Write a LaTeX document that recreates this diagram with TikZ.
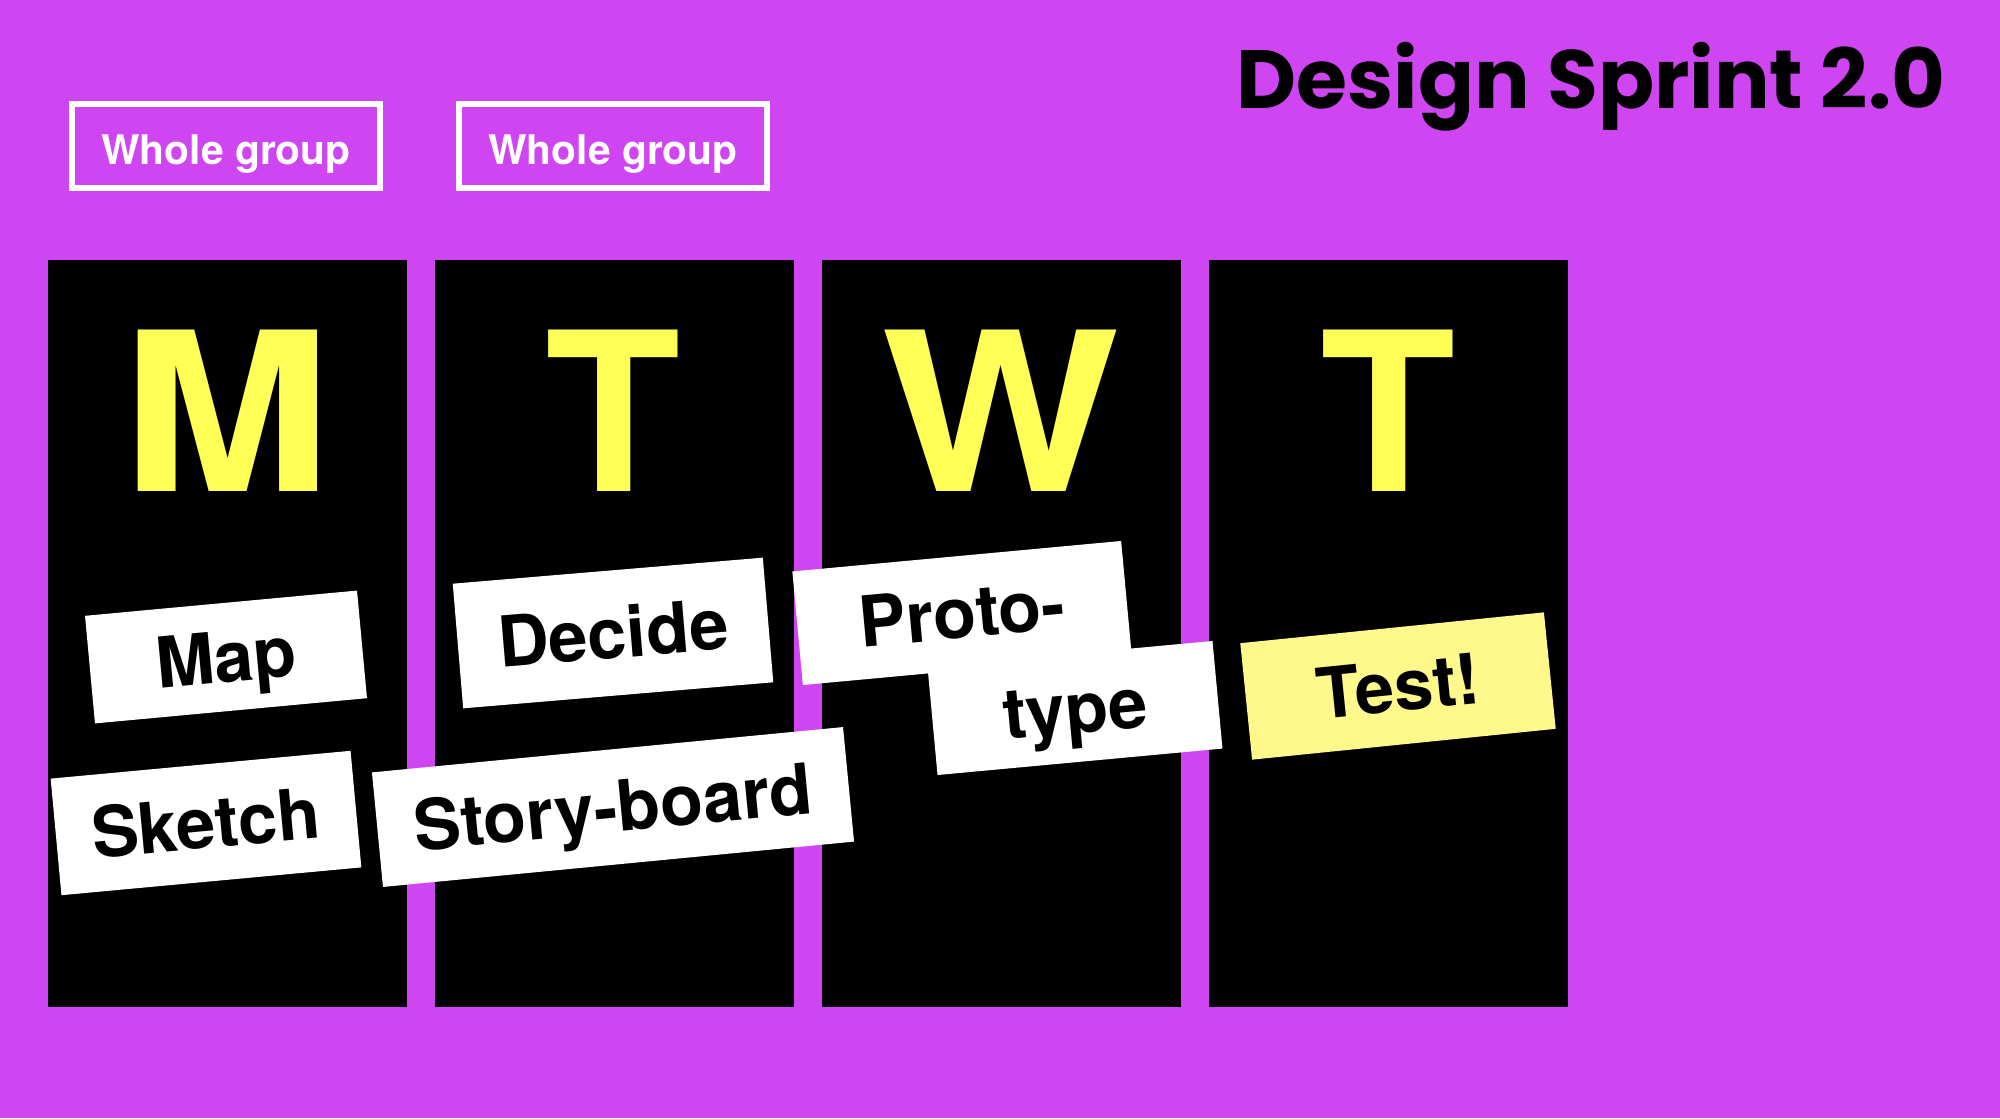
\documentclass[tikz,border=0pt]{standalone}
\usepackage{fontspec}
\setmainfont{TeX Gyre Heros}
\newfontfamily\titlefont{Poppins}
\definecolor{bg}{RGB}{207,69,242}
\definecolor{ylw}{RGB}{255,255,85}
\definecolor{pale}{RGB}{255,249,140}
\tikzset{
  daycol/.style={fill=black, inner sep=0pt, minimum width=3.59cm, minimum height=7.47cm, anchor=north west},
  dayletter/.style={text=ylw, anchor=base, inner sep=0pt, font=\fontsize{63}{63}\selectfont\bfseries},
  groupbox/.style={draw=white, line width=0.06cm, minimum width=3.07cm, minimum height=0.83cm, inner sep=0pt, text height=10.6pt, text depth=0pt, text=white, font=\fontsize{11.6}{12}\selectfont\bfseries},
  note/.style={fill=white, rotate=5.3, inner sep=0pt, text height=14.4pt, text depth=0pt, font=\fontsize{20}{20}\selectfont\bfseries}
}
\begin{document}
\begin{tikzpicture}[x=0.01cm,y=-0.01cm]
\fill[bg] (0,0) rectangle (2000,1118);
\useasboundingbox (0,0) rectangle (2000,1118);
% title
\node[anchor=base east, inner sep=0pt, font=\titlefont\bfseries\fontsize{23.5}{24}\selectfont] (title) at (1946,108) {Design Sprint 2.0};
% group boxes
\node[groupbox] (g1) at (226,146) {Whole group};
\node[groupbox] (g2) at (613,146) {Whole group};
% columns
\node[daycol] (c1) at (47,259) {};
\node[daycol] (c2) at (434,259) {};
\node[daycol] (c3) at (821,259) {};
\node[daycol] (c4) at (1208,259) {};
% letters
\node[dayletter] (lm) at (227,491) {\scalebox{1.14}[1]{M}};
\node[dayletter] (lt1) at (613,491) {T};
\node[dayletter] (lw) at (1001,491) {\scalebox{1.14}[1]{W}};
\node[dayletter] (lt2) at (1388,491) {T};
% notes
\node[note, minimum width=2.73cm, minimum height=1.08cm] (map) at (226,657) {Map};
\node[note, minimum width=3.11cm, minimum height=1.25cm, rotate=-0.5] (decide) at (613,633) {Decide};
\node[note, minimum width=3.30cm, minimum height=1.14cm] (proto) at (962,613) {Proto-};
\node[note, minimum width=2.86cm, minimum height=1.08cm] (type) at (1075,708) {type};
\node[note, fill=pale, minimum width=3.05cm, minimum height=1.17cm, rotate=0.5] (test) at (1398,686) {Test!};
\node[note, minimum width=3.01cm, minimum height=1.17cm] (sketch) at (206,823) {Sketch};
\node[note, minimum width=4.73cm, minimum height=1.15cm, rotate=0.2] (story) at (613,807) {Story-board};
\end{tikzpicture}
\end{document}
